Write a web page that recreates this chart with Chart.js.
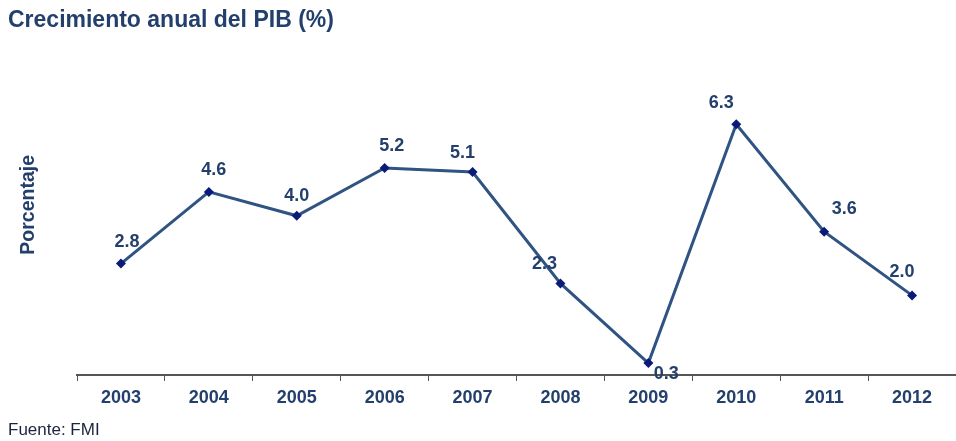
<!DOCTYPE html>
<html>
<head>
<meta charset="utf-8">
<script src="https://cdn.jsdelivr.net/npm/chart.js@4/dist/chart.umd.min.js"></script>
<style>
html,body{margin:0;padding:0;background:#fff;}
#wrap{width:956px;height:441px;position:relative;}
</style>
</head>
<body>
<div id="wrap"><canvas id="c" width="956" height="441"></canvas></div>
<script>
const years = ['2003','2004','2005','2006','2007','2008','2009','2010','2011','2012'];
const gdpGrowth = [2.8, 4.6, 4.0, 5.2, 5.1, 2.3, 0.3, 6.3, 3.6, 2.0];
const valueLabels = ['2.8','4.6','4.0','5.2','5.1','2.3','0.3','6.3','3.6','2.0'];
const yAxisTitle = 'Porcentaje';

const NAVY = '#233f6c';
const FONT = '"Liberation Sans", Arial, sans-serif';

const labelPlugin = {
  id: 'pointLabels',
  afterDatasetsDraw(chart, args, opts) {
    const ctx = chart.ctx;
    const meta = chart.getDatasetMeta(0);
    ctx.save();
    ctx.font = 'bold 18px ' + FONT;
    ctx.fillStyle = NAVY;
    ctx.textAlign = 'center';
    ctx.textBaseline = 'middle';
    meta.data.forEach((pt, i) => {
      const off = opts.offsets[i] || [0, -21];
      ctx.fillText(valueLabels[i], pt.x + off[0], pt.y + off[1]);
    });
    // y axis title
    const area = chart.chartArea;
    ctx.translate(29, (area.top + area.bottom) / 2 - 9);
    ctx.rotate(-Math.PI / 2);
    ctx.font = 'bold 19.5px ' + FONT;
    ctx.fillText(yAxisTitle, 0, 0);
    ctx.restore();
  }
};

new Chart(document.getElementById('c'), {
  type: 'line',
  data: {
    labels: years,
    datasets: [{
      data: gdpGrowth,
      borderColor: '#2f5382',
      borderWidth: 3,
      pointStyle: 'rectRot',
      pointRadius: 5,
      pointBackgroundColor: '#0a1a78',
      pointBorderColor: '#0a1a78',
      pointBorderWidth: 0,
      tension: 0,
      clip: false
    }]
  },
  options: {
    responsive: false,
    animation: false,
    devicePixelRatio: 1,
    layout: { autoPadding: false, padding: { left: 8, right: 0, top: 5, bottom: 0 } },
    plugins: {
      legend: { display: false },
      tooltip: { enabled: false },
      title: {
        display: true,
        text: 'Crecimiento anual del PIB (%)',
        align: 'start',
        color: NAVY,
        font: { family: FONT, size: 23, weight: 'bold' },
        padding: { top: 2, bottom: 18 }
      },
      subtitle: {
        display: true,
        position: 'bottom',
        align: 'start',
        text: 'Fuente: FMI',
        color: '#1a2440',
        font: { family: FONT, size: 17 },
        padding: { top: 6, bottom: 0 }
      },
      pointLabels: {
        offsets: [[6,-22],[5,-22],[0,-20],[7,-22],[-10,-19],[-16,-19],[18,11],[-15,-21],[20,-23],[-10,-23]]
      }
    },
    scales: {
      x: {
        offset: true,
        grid: { display: true, offset: true, drawOnChartArea: false, drawTicks: true, tickLength: 6, color: '#555', lineWidth: 1 },
        border: { display: true, color: '#555', width: 2 },
        ticks: {
          color: NAVY,
          padding: 6,
          font: { family: FONT, size: 18, weight: 'bold' }
        },
        afterFit(scale) { scale.paddingLeft = 0; scale.paddingRight = -3; }
      },
      y: {
        min: 0,
        max: 8.1,
        grid: { display: false },
        border: { display: false },
        ticks: { display: false },
        title: { display: false },
        afterFit(scale) { scale.width = 69; }
      }
    }
  },
  plugins: [labelPlugin]
});
</script>
</body>
</html>
